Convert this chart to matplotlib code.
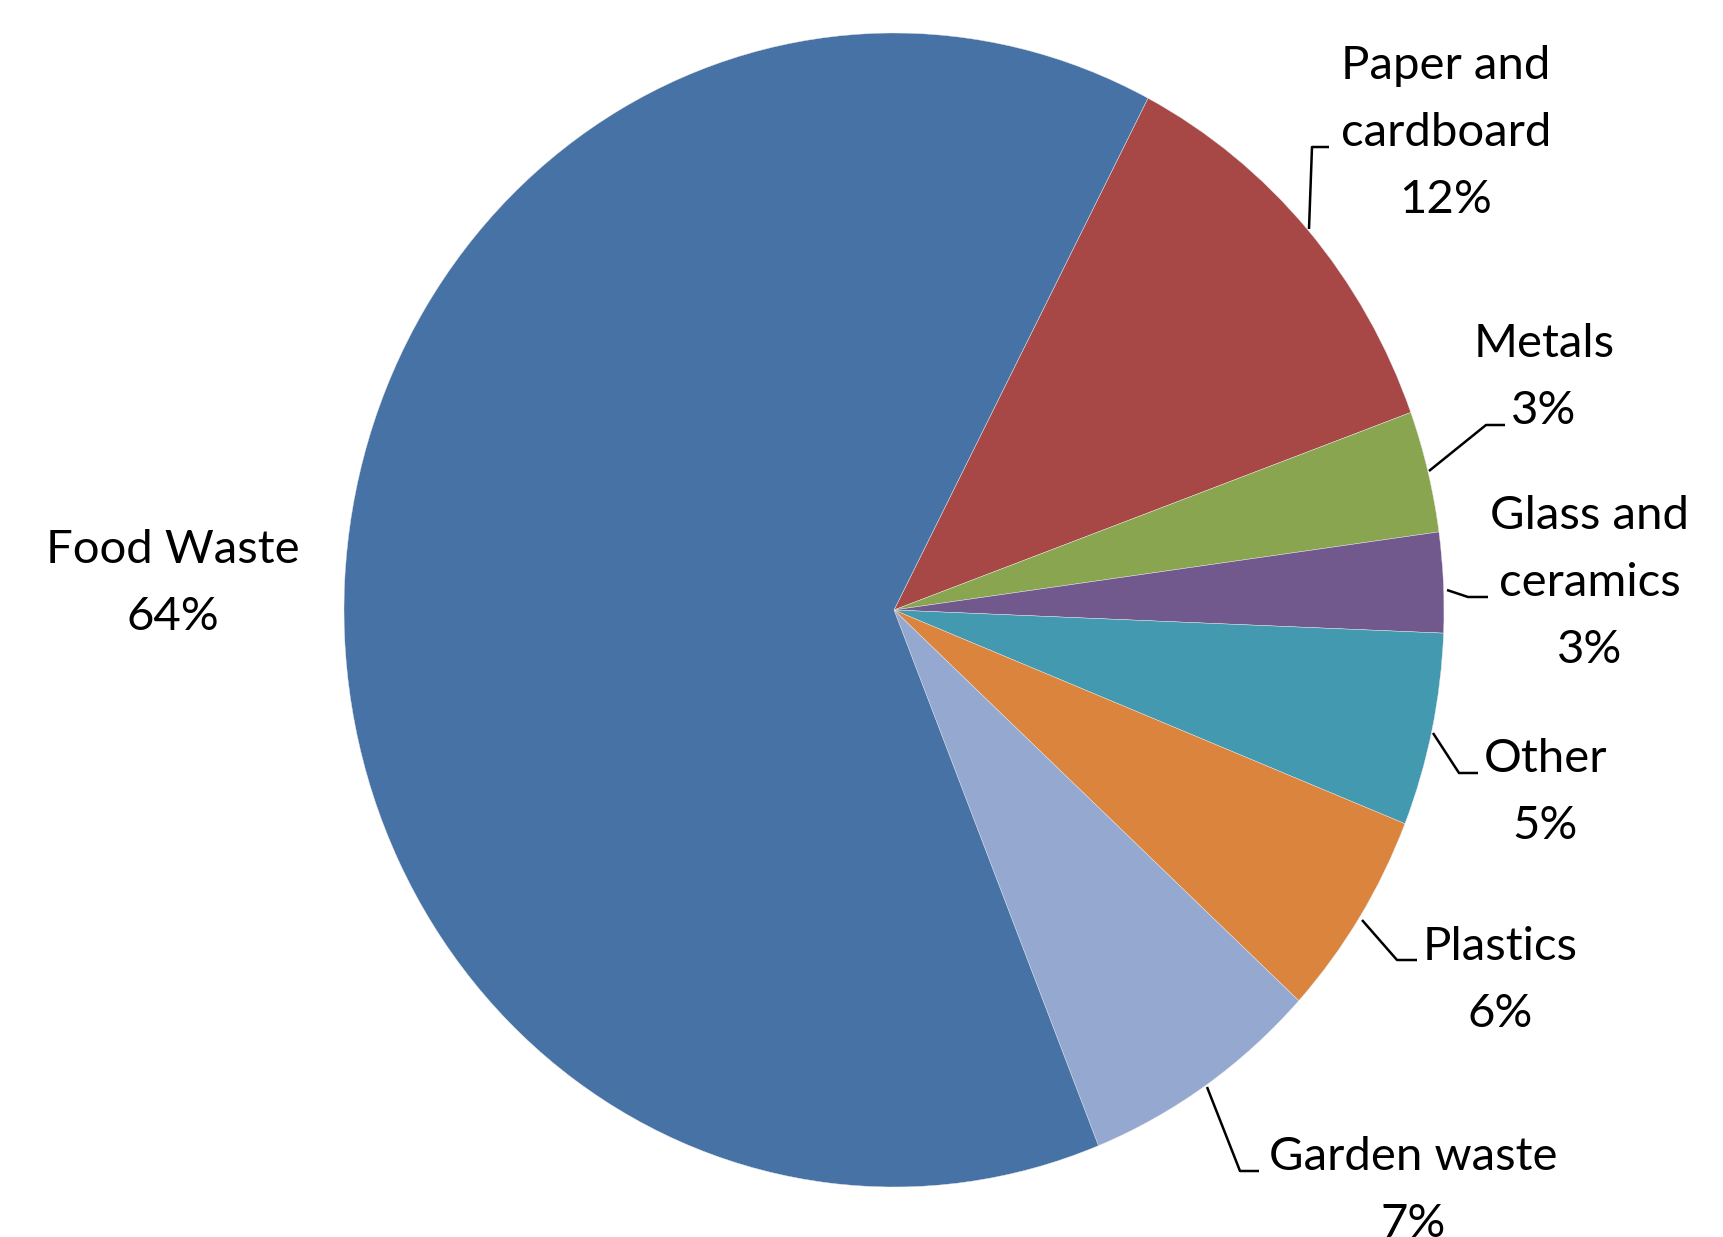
import matplotlib.pyplot as plt

# slices, clockwise from the Food/Paper boundary
categories = ['Paper and\ncardboard', 'Metals', 'Glass and\nceramics', 'Other',
              'Plastics', 'Garden waste', 'Food Waste']
shares = [11.8, 3.4, 2.8, 5.4, 5.8, 7.1, 63.7]
colors = ['#A84846', '#8AA54F', '#71598E', '#4399B0', '#DB843D', '#95A9D0', '#4672A6']

# layout, in pixel coordinates of the 1723x1237 image (y down)
W, H = 1723, 1237
CX, CY = 894, 610
RX, RY = 550, 577
YS = RX / RY  # pie is a bit taller than wide
LINE_STEP = 67

# (centre x, first baseline y) for each label
label_pos = [(1446, 79), (1544, 357), (1590, 529), (1545, 772),
             (1500, 960), (1413, 1170), (173, 563)]
# leader lines, from the pie edge out to the text
leaders = [
    [(1309, 229), (1312, 147), (1329, 147)],
    [(1429, 471), (1486, 425), (1505, 425)],
    [(1447, 590), (1468, 597), (1488, 597)],
    [(1433, 733), (1459, 773), (1478, 773)],
    [(1362, 920), (1397, 960), (1417, 960)],
    [(1207, 1087), (1240, 1171), (1259, 1171)],
    None,
]


def px(x, y):
    return x, (H - y) * YS


fig = plt.figure(figsize=(W / 100, H / 100), dpi=100)
ax = fig.add_axes([0, 0, 1, 1])

ax.pie(shares, colors=colors, startangle=62.5, counterclock=False,
       radius=RX, center=px(CX, CY),
       wedgeprops=dict(linewidth=0.3, edgecolor='#e8e8e8'))
ax.set_aspect('auto')
ax.set_xlim(0, W)
ax.set_ylim(0, H * YS)
ax.axis('off')

for name, val, (x0, y0), lead in zip(categories, shares, label_pos, leaders):
    lines = name.split('\n') + [f'{round(val)}%']
    for i, line in enumerate(lines):
        ax.text(*px(x0, y0 + i * LINE_STEP), line, ha='center', va='baseline',
                fontsize=34, family='Lato', color='black')
    if lead is not None:
        xs, ys = zip(*[px(x, y) for x, y in lead])
        ax.plot(xs, ys, color='black', lw=1.8, solid_capstyle='butt')

fig.savefig('out.png', dpi=100, facecolor='white')
